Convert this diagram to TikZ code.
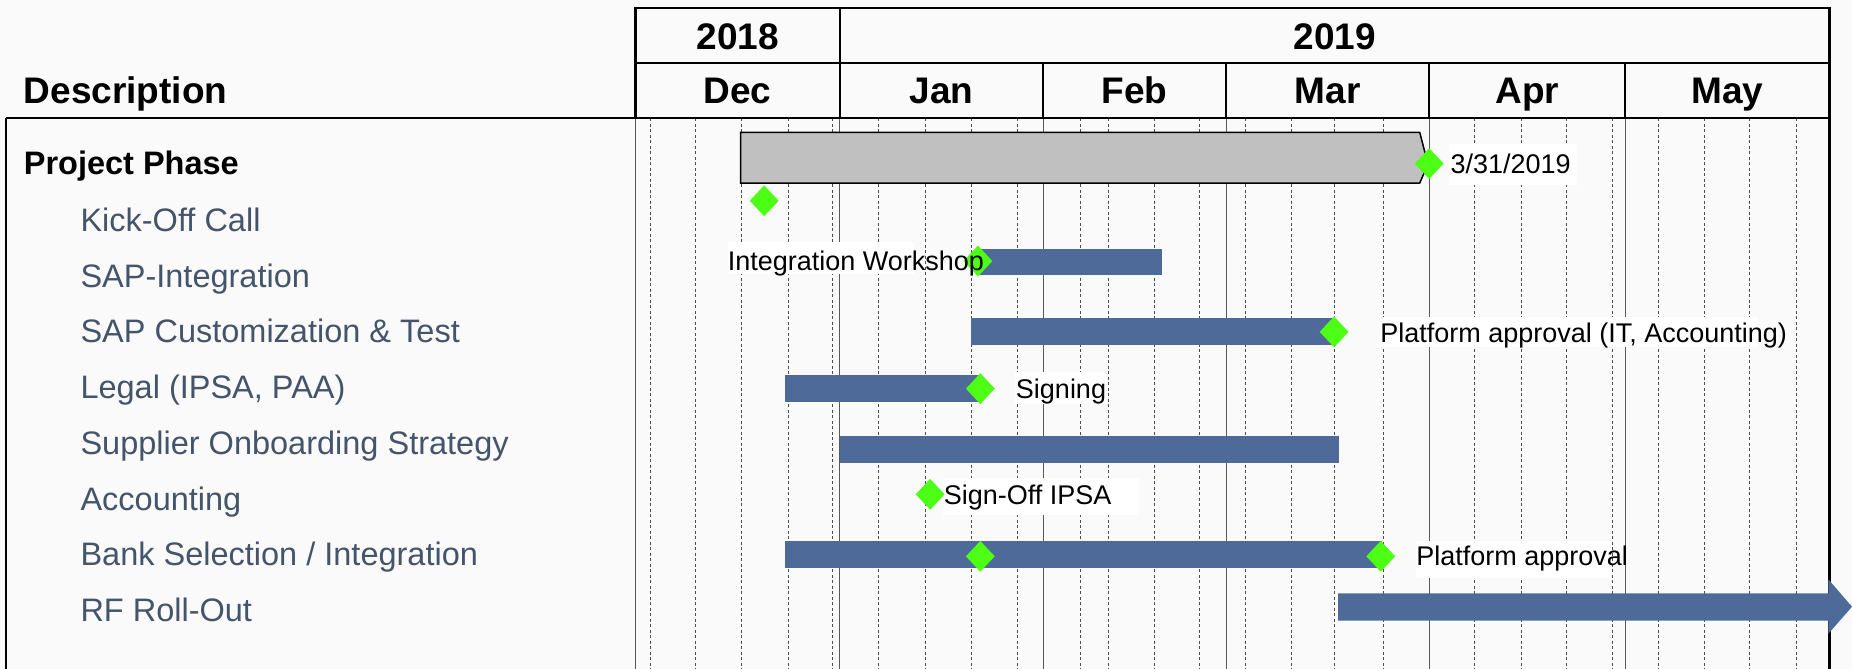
\documentclass[tikz,border=0pt]{standalone}
\usepackage{fontspec}
\setmainfont{Liberation Sans}
\usetikzlibrary{shapes.geometric}
\definecolor{barblue}{HTML}{4D6A99}
\definecolor{msgreen}{HTML}{4CFF14}
\definecolor{itemtxt}{HTML}{44546A}
\definecolor{bgcol}{HTML}{FAFAFA}
\definecolor{phasegray}{HTML}{C0C0C0}
\begin{document}
\begin{tikzpicture}[x=1.1811pt,y=-1.1811pt,
  hdr/.style={font=\fontsize{37}{40}\selectfont\bfseries, anchor=base, inner sep=0pt},
  itemlbl/.style={font=\fontsize{32.5}{36}\selectfont, text=itemtxt, anchor=base west, inner sep=0pt},
  mslbl/.style={font=\fontsize{27}{30}\selectfont, anchor=base west, inner sep=0pt},
  ms/.style={shape=diamond, fill=msgreen, inner sep=0pt, minimum width=29pt, minimum height=31pt},
  weekline/.style={dash pattern=on 3pt off 2.5pt, line width=0.6pt, black!70},
  monthline/.style={line width=0.8pt, black!65},
  frameline/.style={line width=2.2pt, black},
  taskbar/.style={fill=barblue},
  whitebox/.style={fill=white}]
\fill[bgcol] (0,0) rectangle (1568,566);
\useasboundingbox (0,0) rectangle (1568,566);

% grid
\foreach \x in {550.7,589,628,667,704.5,744,783,822,861,914.4,938,977,1015.7,1054.6,1093.4,1130,1171,1248,1287.6,1326,1365,1404,1443,1481,1520.5}
  \draw[weekline] (\x,100) -- (\x,566);
\foreach \x in {538,711,883,1038,1210,1376}
  \draw[monthline] (\x,100) -- (\x,566);

% header frame
\draw[frameline] (538,7) rectangle (1549,100);
\draw[frameline] (538,53) -- (1549,53);
\draw[frameline] (711,7) -- (711,100);
\foreach \x in {883,1038,1210,1376}
  \draw[frameline] (\x,53) -- (\x,100);
\draw[frameline] (5,100) -- (1549,100);
\draw[line width=1.6pt] (5,100) -- (5,566);
\draw[frameline] (1549,100) -- (1549,566);

% header texts
\node[hdr] (y2018) at (624.5,42) {2018};
\node[hdr] (y2019) at (1130,42) {2019};
\node[hdr] (mdec) at (624.5,88) {Dec};
\node[hdr] (mjan) at (797,88) {Jan};
\node[hdr] (mfeb) at (960.5,88) {Feb};
\node[hdr] (mmar) at (1124,88) {Mar};
\node[hdr] (mapr) at (1293,88) {Apr};
\node[hdr] (mmay) at (1462.5,88) {May};
\node[hdr, anchor=base west] (desc) at (20,88) {Description};

% row labels
\node[font=\fontsize{32.5}{36}\selectfont\bfseries, anchor=base west, inner sep=0pt] (rphase) at (20,148) {Project Phase};
\node[itemlbl] (rkick) at (68,196) {Kick-Off Call};
\node[itemlbl] (rsap) at (68,243) {SAP-Integration};
\node[itemlbl] (rcust) at (68,290) {SAP Customization \& Test};
\node[itemlbl] (rlegal) at (68,337) {Legal (IPSA, PAA)};
\node[itemlbl] (rsupp) at (68,385) {Supplier Onboarding Strategy};
\node[itemlbl] (racc) at (68,432) {Accounting};
\node[itemlbl] (rbank) at (68,479) {Bank Selection / Integration};
\node[itemlbl] (rrf) at (68,526) {RF Roll-Out};

% white label backgrounds
\fill[whitebox] (1227,122) rectangle (1335,157);
\fill[whitebox] (616.5,205) rectangle (774,232);
\fill[whitebox] (1168,268) rectangle (1488,293.5);
\fill[whitebox] (859.5,314.7) rectangle (937,342);
\fill[whitebox] (798,405) rectangle (964,436);
\fill[whitebox] (1199,458) rectangle (1365,489);

% bars
\draw[fill=phasegray, line width=1.5pt, line join=miter] (627,112) -- (1202,112) -- (1209,139) -- (1202,155) -- (627,155) -- cycle;
\fill[taskbar] (826,210.5) rectangle (983.6,232.5);
\fill[taskbar] (821.7,269.5) rectangle (1130,292);
\fill[taskbar] (664.7,317.5) rectangle (828.6,340);
\fill[taskbar] (711,369) rectangle (1134,392);
\fill[taskbar] (664.7,458) rectangle (1170,481);
\fill[taskbar] (1133,502.4) -- (1548,502.4) -- (1548,490.5) -- (1568,513.7) -- (1548,536.5) -- (1548,525.5) -- (1133,525.5) -- cycle;

% milestones
\node[ms] (m1) at (1210,138.5) {};
\node[ms] (m2) at (647,170) {};
\node[ms] (m3) at (828,221) {};
\node[ms] (m4) at (1129.5,281) {};
\node[ms] (m5) at (830,329) {};
\node[ms] (m6) at (787.5,418.5) {};
\node[ms] (m7) at (830,471) {};
\node[ms] (m8) at (1169,471) {};

% milestone labels
\node[mslbl] (l1) at (1228,147) {3/31/2019};
\node[mslbl] (l3) at (616,229) {Integration Workshop};
\node[mslbl] (l4) at (1168.5,290) {Platform approval (IT, Accounting)};
\node[mslbl] (l5) at (860,337) {Signing};
\node[mslbl] (l6) at (799,427) {Sign-Off IPSA};
\node[mslbl] (l8) at (1199,479) {Platform approval};
\end{tikzpicture}
\end{document}
